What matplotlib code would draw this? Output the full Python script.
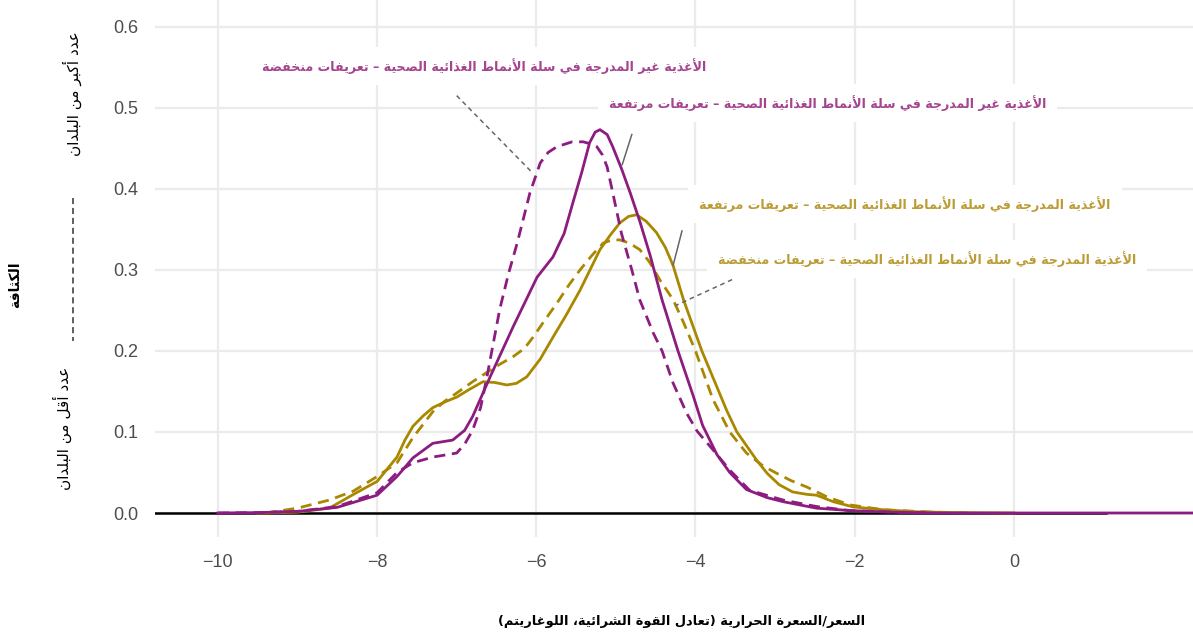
import matplotlib
matplotlib.use('Agg')
import matplotlib.pyplot as plt
from matplotlib.lines import Line2D

# density curves (x = log price per calorie)
pur_hi_x = [-10.0, -9.5, -9.0, -8.5, -8.0, -7.75, -7.55, -7.30, -7.05, -6.90, -6.80, -6.58, -6.29, -5.99,
            -5.79, -5.65, -5.54, -5.43, -5.33, -5.26, -5.20, -5.11, -5.04, -4.93, -4.82, -4.70, -4.57,
            -4.42, -4.22, -4.03, -3.91, -3.73, -3.57, -3.36, -3.10, -2.90, -2.48, -2.06, -1.5, -1.0,
            0.0, 1.0, 2.25]
pur_hi_y = [0.0, 0.0005, 0.002, 0.007, 0.022, 0.045, 0.068, 0.086, 0.090, 0.102, 0.119, 0.168, 0.230, 0.291,
            0.316, 0.345, 0.383, 0.420, 0.457, 0.470, 0.473, 0.467, 0.452, 0.425, 0.395, 0.360, 0.318,
            0.263, 0.200, 0.145, 0.108, 0.072, 0.050, 0.029, 0.019, 0.014, 0.006, 0.003, 0.001, 0.0,
            0.0, 0.0, 0.0]

pur_lo_x = [-10.0, -9.5, -9.0, -8.5, -8.0, -7.75, -7.55, -7.30, -7.0, -6.90, -6.80, -6.70, -6.62, -6.46,
            -6.35, -6.24, -6.08, -5.95, -5.85, -5.74, -5.55, -5.41, -5.30, -5.24, -5.17, -5.11, -5.05,
            -4.93, -4.80, -4.70, -4.53, -4.42, -4.28, -4.11, -3.98, -3.78, -3.57, -3.32, -2.90, -2.48,
            -2.06, -1.5, -1.0]
pur_lo_y = [0.0, 0.0005, 0.002, 0.008, 0.025, 0.050, 0.062, 0.069, 0.074, 0.085, 0.102, 0.130, 0.168, 0.251,
            0.295, 0.333, 0.395, 0.432, 0.445, 0.452, 0.458, 0.458, 0.455, 0.452, 0.442, 0.427, 0.400,
            0.345, 0.300, 0.263, 0.222, 0.200, 0.160, 0.123, 0.101, 0.078, 0.053, 0.028, 0.016, 0.008,
            0.003, 0.001, 0.0]

gold_hi_x = [-9.5, -9.0, -8.6, -8.26, -8.0, -7.75, -7.65, -7.55, -7.42, -7.30, -7.15, -7.0, -6.85, -6.67,
             -6.52, -6.37, -6.25, -6.12, -5.95, -5.79, -5.62, -5.45, -5.20, -5.07, -4.95, -4.84, -4.74,
             -4.62, -4.49, -4.38, -4.28, -4.15, -3.92, -3.75, -3.61, -3.48, -3.23, -3.10, -2.95, -2.78,
             -2.60, -2.48, -2.27, -2.02, -1.64, -1.22, -0.7, 0.0]
gold_hi_y = [0.0, 0.001, 0.006, 0.025, 0.039, 0.069, 0.090, 0.107, 0.120, 0.130, 0.137, 0.143, 0.152, 0.162,
             0.161, 0.158, 0.160, 0.168, 0.190, 0.217, 0.245, 0.275, 0.325, 0.343, 0.358, 0.366, 0.368,
             0.360, 0.346, 0.328, 0.305, 0.263, 0.200, 0.160, 0.127, 0.100, 0.065, 0.049, 0.035, 0.026,
             0.023, 0.022, 0.014, 0.0075, 0.004, 0.0015, 0.0005, 0.0]

gold_lo_x = [-9.4, -9.0, -8.6, -8.3, -8.0, -7.75, -7.55, -7.30, -7.15, -7.0, -6.80, -6.58, -6.45, -6.29,
             -6.15, -6.04, -5.90, -5.74, -5.60, -5.45, -5.30, -5.16, -5.05, -4.95, -4.83, -4.70, -4.58,
             -4.45, -4.28, -4.15, -4.0, -3.78, -3.57, -3.36, -3.15, -2.98, -2.80, -2.60, -2.35, -2.06,
             -1.64, -1.0, -0.5]
gold_lo_y = [0.0, 0.006, 0.016, 0.027, 0.045, 0.062, 0.093, 0.125, 0.138, 0.148, 0.162, 0.176, 0.184, 0.193,
             0.203, 0.217, 0.237, 0.259, 0.280, 0.300, 0.318, 0.333, 0.337, 0.337, 0.333, 0.325, 0.310,
             0.288, 0.263, 0.235, 0.200, 0.140, 0.100, 0.074, 0.058, 0.049, 0.040, 0.032, 0.020, 0.010,
             0.004, 0.001, 0.0]

x_ticks = [-10, -8, -6, -4, -2, 0]
y_ticks = [0.0, 0.1, 0.2, 0.3, 0.4, 0.5, 0.6]

lab_pur_lo = 'الأغذية غير المدرجة في سلة الأنماط الغذائية الصحية – تعريفات منخفضة'
lab_pur_hi = 'الأغذية غير المدرجة في سلة الأنماط الغذائية الصحية – تعريفات مرتفعة'
lab_gold_hi = 'الأغذية المدرجة في سلة الأنماط الغذائية الصحية – تعريفات مرتفعة'
lab_gold_lo = 'الأغذية المدرجة في سلة الأنماط الغذائية الصحية – تعريفات منخفضة'
y_title = 'الكثافة'
y_more = 'عدد أكبر من البلدان'
y_less = 'عدد أقل من البلدان'
x_title = 'السعر/السعرة الحرارية (تعادل القوة الشرائية، اللوغاريتم)'

PURPLE = '#8c1c80'
GOLD = '#a98800'
PURPLE_TXT = '#a5448f'
GOLD_TXT = '#bb9c35'

# matplotlib has no arabic shaping, so pick presentation forms by hand
# letter -> (isolated form, joining type: 0 none, 1 right only, 2 both)
FORMS = {
    'ء': (0xFE80, 0), 'آ': (0xFE81, 1), 'أ': (0xFE83, 1), 'ؤ': (0xFE85, 1), 'إ': (0xFE87, 1),
    'ئ': (0xFE89, 2), 'ا': (0xFE8D, 1), 'ب': (0xFE8F, 2), 'ة': (0xFE93, 1), 'ت': (0xFE95, 2),
    'ث': (0xFE99, 2), 'ج': (0xFE9D, 2), 'ح': (0xFEA1, 2), 'خ': (0xFEA5, 2), 'د': (0xFEA9, 1),
    'ذ': (0xFEAB, 1), 'ر': (0xFEAD, 1), 'ز': (0xFEAF, 1), 'س': (0xFEB1, 2), 'ش': (0xFEB5, 2),
    'ص': (0xFEB9, 2), 'ض': (0xFEBD, 2), 'ط': (0xFEC1, 2), 'ظ': (0xFEC5, 2), 'ع': (0xFEC9, 2),
    'غ': (0xFECD, 2), 'ف': (0xFED1, 2), 'ق': (0xFED5, 2), 'ك': (0xFED9, 2), 'ل': (0xFEDD, 2),
    'م': (0xFEE1, 2), 'ن': (0xFEE5, 2), 'ه': (0xFEE9, 2), 'و': (0xFEED, 1), 'ى': (0xFEEF, 1),
    'ي': (0xFEF1, 2),
}
LAM_ALEF = {'آ': 0xFEF5, 'أ': 0xFEF7, 'إ': 0xFEF9, 'ا': 0xFEFB}


def joins_next(u):
    if u is None or u[0] == 'LA':
        return False
    return u[1] in FORMS and FORMS[u[1]][1] == 2


def joins_prev(u):
    if u is None:
        return False
    if u[0] == 'LA':
        return True
    return u[1] in FORMS and FORMS[u[1]][1] >= 1


def shape(text):
    units = []
    i = 0
    while i < len(text):
        c = text[i]
        if c == 'ل' and i + 1 < len(text) and text[i + 1] in LAM_ALEF:
            units.append(('LA', LAM_ALEF[text[i + 1]]))
            i += 2
        else:
            units.append(('C', c))
            i += 1
    out = []
    for k, u in enumerate(units):
        prev = units[k - 1] if k > 0 else None
        nxt = units[k + 1] if k + 1 < len(units) else None
        if u[0] == 'LA':
            out.append(chr(u[1] + 1 if joins_next(prev) else u[1]))
            continue
        if u[1] not in FORMS:
            out.append(u[1])
            continue
        base, jt = FORMS[u[1]]
        p = jt >= 1 and joins_next(prev)
        n = jt == 2 and joins_prev(nxt)
        if p and n:
            out.append(chr(base + 3))
        elif p:
            out.append(chr(base + 1))
        elif n:
            out.append(chr(base + 2))
        else:
            out.append(chr(base))
    s = ''.join(out)[::-1]
    return s.translate(str.maketrans('()', ')('))


plt.rcParams['font.family'] = ['DejaVu Sans']

fig = plt.figure(figsize=(11.93, 6.34), dpi=100)
ax = fig.add_axes([155 / 1193, 97 / 634, 1 - 155 / 1193, 537 / 634])

ax.set_xlim(-10.79, 2.25)
ax.set_ylim(-0.0296, 0.633)
ax.set_xticks(x_ticks)
ax.set_yticks(y_ticks)
ax.set_xticklabels(['\u2212%d' % abs(v) if v < 0 else '%d' % v for v in x_ticks],
                   family='Liberation Sans')
ax.set_yticklabels(['%.1f' % v for v in y_ticks], family='Liberation Sans')
ax.tick_params(length=0, labelsize=13, labelcolor='#4d4d4d')
ax.tick_params(axis='y', pad=12)
ax.tick_params(axis='x', pad=12)
for s in ax.spines.values():
    s.set_visible(False)
ax.grid(True, color='#ebebeb', linewidth=1.6)
ax.set_axisbelow(True)

ax.plot([-10.79, 1.16], [0, 0], color='black', lw=1.8, zorder=2)

dash = (4, 2.4)
ax.plot(gold_lo_x, gold_lo_y, color=GOLD, lw=2.0, dashes=dash, zorder=3)
ax.plot(gold_hi_x, gold_hi_y, color=GOLD, lw=2.0, zorder=3)
ax.plot(pur_lo_x, pur_lo_y, color=PURPLE, lw=2.0, dashes=dash, zorder=3)
ax.plot(pur_hi_x, pur_hi_y, color=PURPLE, lw=2.0, zorder=3)

# leader lines
ax.plot([-7.00, -6.06], [0.515, 0.421], color='#666666', lw=1.1, dashes=(3, 2.5), zorder=4)
ax.plot([-4.80, -4.92], [0.467, 0.430], color='#666666', lw=1.1, zorder=4)
ax.plot([-4.17, -4.28], [0.348, 0.306], color='#666666', lw=1.1, zorder=4)
ax.plot([-3.54, -4.25], [0.288, 0.256], color='#666666', lw=1.1, dashes=(3, 2.5), zorder=4)

box = dict(facecolor='white', edgecolor='none', pad=8)
lab_fs = 9.1
ax.text(-6.65, 0.552, shape(lab_pur_lo), color=PURPLE_TXT, fontsize=lab_fs, weight='bold',
        ha='center', va='center', bbox=box, zorder=5)
ax.text(-2.34, 0.506, shape(lab_pur_hi), color=PURPLE_TXT, fontsize=lab_fs, weight='bold',
        ha='center', va='center', bbox=box, zorder=5)
ax.text(-1.37, 0.381, shape(lab_gold_hi), color=GOLD_TXT, fontsize=lab_fs, weight='bold',
        ha='center', va='center', bbox=box, zorder=5)
ax.text(-1.09, 0.313, shape(lab_gold_lo), color=GOLD_TXT, fontsize=lab_fs, weight='bold',
        ha='center', va='center', bbox=box, zorder=5)

fig.text(15 / 1193, 1 - 285 / 634, shape(y_title), rotation=90, ha='center', va='center',
         fontsize=10, weight='bold', color='black')
fig.text(72 / 1193, 1 - 94 / 634, shape(y_more), rotation=90, ha='center', va='center',
         fontsize=11, color='black')
fig.text(62 / 1193, 1 - 428 / 634, shape(y_less), rotation=90, ha='center', va='center',
         fontsize=11, color='black')
fig.add_artist(Line2D([73 / 1193, 73 / 1193], [1 - 198 / 634, 1 - 341 / 634],
                      transform=fig.transFigure, color='#333333', lw=1.1, dashes=(4, 2.5)))
fig.text(682 / 1193, 1 - 622 / 634, shape(x_title), ha='center', va='center',
         fontsize=9.4, weight='bold', color='black')

fig.savefig('out.png', dpi=100)
